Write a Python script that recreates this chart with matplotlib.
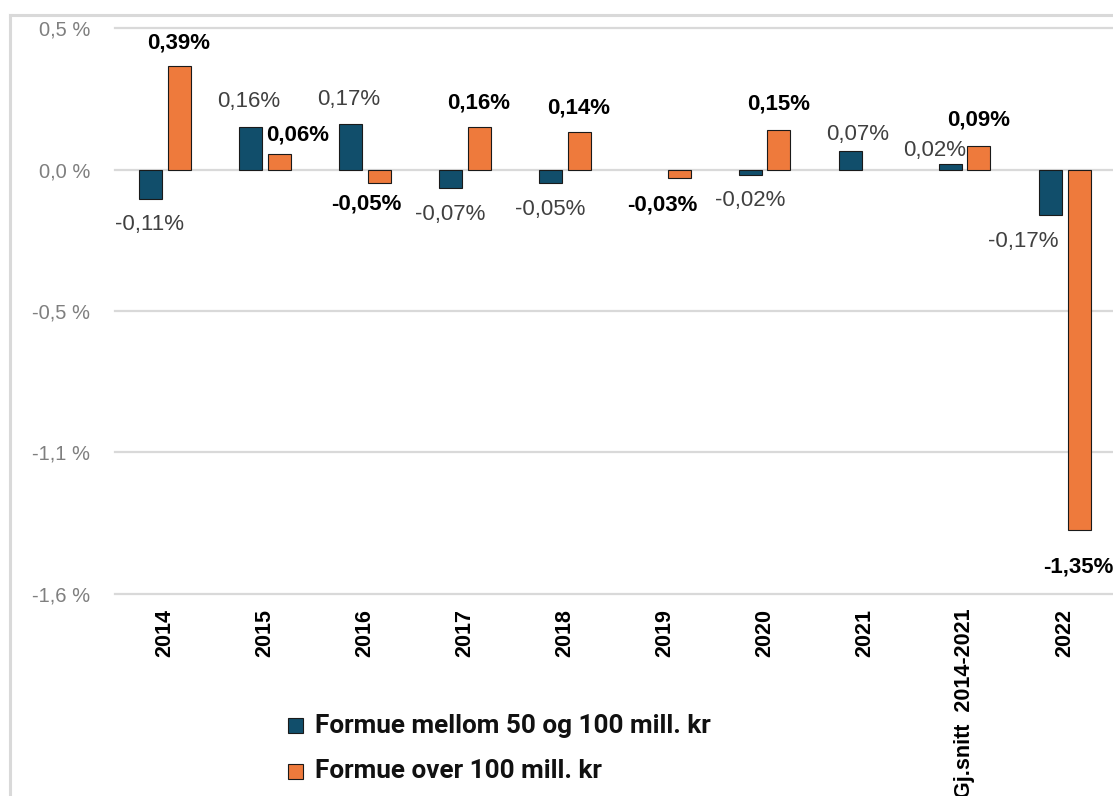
import numpy as np
import matplotlib
matplotlib.use("Agg")
import matplotlib.pyplot as plt
from matplotlib.lines import Line2D
from matplotlib.patches import Rectangle

# ---------------- data ----------------
categories = ["2014", "2015", "2016", "2017", "2018", "2019", "2020", "2021",
              "Gj.snitt  2014-2021", "2022"]
series_names = ["Formue mellom 50 og 100 mill. kr", "Formue over 100 mill. kr"]
mid_wealth = [-0.11, 0.16, 0.17, -0.07, -0.05, np.nan, -0.02, 0.07, 0.02, -0.17]
high_wealth = [0.39, 0.06, -0.05, 0.16, 0.14, -0.03, 0.15, np.nan, 0.09, -1.35]
ytick_values = [0.53, 0.0, -0.53, -1.06, -1.59]

# label nudges (pixels): (dx, distance from bar end)
mid_label_nudge = [(0, 26), (-1, 25.5), (-1, 25), (0, 26), (0, 27), (0, 0),
                   (0, 26), (8, 16.5), (-15, 13.5), (-27, 26.5)]
high_label_nudge = [(0, 23), (19, 18.5), (-13, 21), (0, 23.5), (0, 24), (-16.5, 27),
                    (0, 26), (0, 0), (0, 26), (-1, 37)]

# ---------------- style ----------------
W, H = 1113, 796
BLUE = "#114E6B"
ORANGE = "#EE7A3C"
GRID = "#D9D9D9"
BASE_FONT = ["Liberation Sans", "DejaVu Sans"]

plt.rcParams["font.family"] = BASE_FONT
fig = plt.figure(figsize=(W / 100, H / 100), dpi=100)
fig.patch.set_facecolor("white")

ax_left, ax_right = 114.5, 1114.5
ax_top, ax_bottom = 28.3, 593.5
ax = fig.add_axes([ax_left / W, 1 - ax_bottom / H,
                   (ax_right - ax_left) / W, (ax_bottom - ax_top) / H])
ax.set_xlim(-0.5, len(categories) - 0.5)
ax.set_ylim(min(ytick_values), max(ytick_values))

x = np.arange(len(categories))
bw = 0.23
off = 0.145
ax.bar(x - off, mid_wealth, width=bw, color=BLUE, edgecolor="#1a1a1a",
       linewidth=0.8, zorder=3)
ax.bar(x + off, high_wealth, width=bw, color=ORANGE, edgecolor="#1a1a1a",
       linewidth=0.8, zorder=3)

# grid lines
for v in ytick_values:
    ax.axhline(v, color=GRID, linewidth=1.6, zorder=1, clip_on=False)

for s in ax.spines.values():
    s.set_visible(False)

ax.set_yticks(ytick_values)
ax.set_yticklabels([f"{v:.1f}".replace(".", ",") + " %" for v in ytick_values],
                   fontsize=14.5, color="#7F7F7F")
ax.set_xticks(x)
ax.set_xticklabels(categories, rotation=90, fontsize=15.5, fontweight="bold",
                   color="#000000")
ax.tick_params(axis="y", length=0, pad=17.5)
ax.tick_params(axis="x", length=0, pad=11)


def fmt(v):
    return f"{v:.2f}".replace(".", ",") + "%"


for i in range(len(categories)):
    for vals, nudges, xo, weight, col in (
            (mid_wealth, mid_label_nudge, -off, "normal", "#404040"),
            (high_wealth, high_label_nudge, off, "bold", "#000000")):
        v = vals[i]
        if np.isnan(v):
            continue
        dx, dist = nudges[i]
        dy = dist if v >= 0 else -dist
        ax.annotate(fmt(v), xy=(i + xo, v), xytext=(dx, dy),
                    textcoords="offset pixels", ha="center", va="center",
                    fontsize=16, fontweight=weight, color=col,
                    annotation_clip=False, zorder=4)

# outer chart frame (light grey)
fig.add_artist(Line2D([9.5 / W, 9.5 / W], [-0.05, 1 - 14.5 / H],
                      transform=fig.transFigure, color=GRID, linewidth=2.2))
fig.add_artist(Line2D([9.5 / W, 1.05], [1 - 14.5 / H, 1 - 14.5 / H],
                      transform=fig.transFigure, color=GRID, linewidth=2.2))

# legend (manual)
legend_font = ["Roboto", "DejaVu Sans"]
renderer = fig.canvas.get_renderer()
rows_y = [725.5, 771]
colors = [BLUE, ORANGE]
target_w = 397.0
fs = 17
probe = fig.text(0, 0, series_names[0], fontsize=fs, fontweight="bold",
                 family=legend_font)
w = probe.get_window_extent(renderer).width
probe.remove()
fs = fs * target_w / w
for name, yc, c in zip(series_names, rows_y, colors):
    fig.add_artist(Rectangle((288 / W, 1 - (yc + 7.5) / H), 15 / W, 15 / H,
                             transform=fig.transFigure, facecolor=c,
                             edgecolor="#1a1a1a", linewidth=0.8))
    fig.text(315 / W, 1 - yc / H, name, fontsize=fs, fontweight="bold",
             family=legend_font, ha="left", va="center", color="#111111")

fig.savefig("out.png", dpi=100)
